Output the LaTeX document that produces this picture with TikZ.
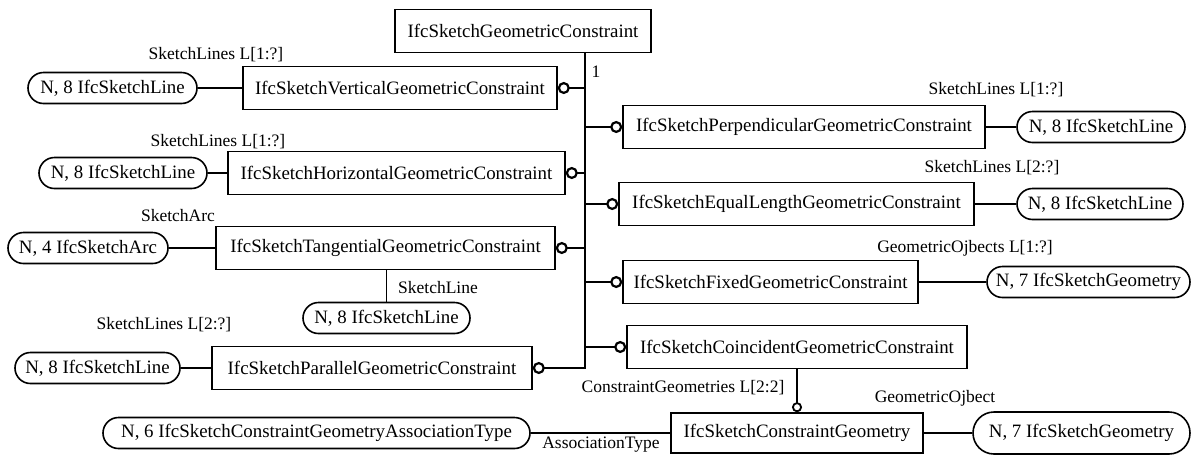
\documentclass[tikz,border=0pt]{standalone}
\usepackage{fontspec}
\setmainfont{Liberation Serif}
\usetikzlibrary{arrows.meta}

\begin{document}
\begin{tikzpicture}[x=1pt, y=-1pt,
  ent/.style={draw, line width=1.6pt, minimum height=43pt, inner sep=0pt, font=\fontsize{18.9}{22}\selectfont},
  defn/.style={draw, line width=1.6pt, rounded corners=15.5pt, minimum height=31pt, inner sep=0pt, font=\fontsize{18.9}{22}\selectfont},
  lbl/.style={inner sep=0pt, font=\fontsize{17.5}{20}\selectfont},
  rel/.style={line width=1.4pt},
  bus/.style={line width=2.8pt, -{Circle[open, length=12pt 0 0, width=12pt 0 0, line width=2.2pt 0 0]}},
]
\useasboundingbox (0,0) rectangle (1194,456);

\node[ent, minimum width=256pt] (top) at (523,31) {IfcSketchGeometricConstraint};

\node[ent, minimum width=314pt] (vert) at (400,88) {IfcSketchVerticalGeometricConstraint};
\node[ent, minimum width=337pt] (horz) at (396.5,173) {IfcSketchHorizontalGeometricConstraint};
\node[ent, minimum width=339pt] (tang) at (385.5,248) {IfcSketchTangentialGeometricConstraint};
\node[ent, minimum width=320pt] (para) at (372,368) {IfcSketchParallelGeometricConstraint};

\node[ent, minimum width=362pt] (perp) at (804,127) {IfcSketchPerpendicularGeometricConstraint};
\node[ent, minimum width=355pt] (eqln) at (796.5,204) {IfcSketchEqualLengthGeometricConstraint};
\node[ent, minimum width=295pt] (fixd) at (770.5,282) {IfcSketchFixedGeometricConstraint};
\node[ent, minimum width=340pt] (coin) at (797,347) {IfcSketchCoincidentGeometricConstraint};
\node[ent, minimum width=252pt, minimum height=40pt] (cgeo) at (797,433) {IfcSketchConstraintGeometry};

\node[defn, minimum width=169pt] (ovV) at (112.5,88) {N, 8 IfcSketchLine};
\node[defn, minimum width=168pt] (ovH) at (123,173) {N, 8 IfcSketchLine};
\node[defn, minimum width=160pt] (ovT) at (88,248) {N, 4 IfcSketchArc};
\node[defn, minimum width=167pt] (ovS) at (386.5,318) {N, 8 IfcSketchLine};
\node[defn, minimum width=165pt] (ovPa) at (97.5,368) {N, 8 IfcSketchLine};
\node[defn, minimum width=168pt] (ovP) at (1101,127) {N, 8 IfcSketchLine};
\node[defn, minimum width=166pt] (ovE) at (1100,204) {N, 8 IfcSketchLine};
\node[defn, minimum width=203pt] (ovF) at (1088.5,282) {N, 7 IfcSketchGeometry};
\node[defn, minimum width=427pt] (ovA) at (316.5,433) {N, 6 IfcSketchConstraintGeometryAssociationType};
\node[defn, minimum width=217pt, minimum height=42pt, rounded corners=21pt] (ovG) at (1081.5,433) {N, 7 IfcSketchGeometry};

\node[lbl] (lV) at (216,55) {SketchLines L[1:?]};
\node[lbl] (lH) at (218,142) {SketchLines L[1:?]};
\node[lbl] (lT) at (178,216) {SketchArc};
\node[lbl] (lS) at (438,288) {SketchLine};
\node[lbl] (lPa) at (164,325) {SketchLines L[2:?]};
\node[lbl] (one) at (596,72) {1};
\node[lbl] (lP) at (996,90) {SketchLines L[1:?]};
\node[lbl] (lE) at (992,168) {SketchLines L[2:?]};
\node[lbl] (lF) at (965,248) {GeometricOjbects L[1:?]};
\node[lbl] (lC) at (683,388) {ConstraintGeometries L[2:2]};
\node[lbl] (lG) at (935,398) {GeometricOjbect};
\node[lbl] (lA) at (601,445) {AssociationType};

\draw[rel] (ovV) -- (vert);
\draw[rel] (ovH) -- (horz);
\draw[rel] (ovT) -- (tang);
\draw[rel] (tang.south -| ovS.north) -- (ovS.north);
\draw[rel] (ovPa) -- (para);
\draw[rel] (perp) -- (ovP);
\draw[rel] (eqln) -- (ovE);
\draw[rel] (fixd) -- (ovF);
\draw[rel] (ovA) -- (cgeo);
\draw[rel] (cgeo) -- (ovG);
\draw[rel, -{Circle[open, length=10pt 0 0, width=10pt 0 0, line width=1.8pt 0 0]}] (coin.south) -- (cgeo.north);

\coordinate (jt) at (585,53);
\draw[bus] (jt) |- (para.east);
\foreach \n in {vert,horz,tang}
  \draw[bus] (jt |- \n.east) -- (\n.east);
\foreach \n in {perp,eqln,fixd,coin}
  \draw[bus] (jt |- \n.west) -- (\n.west);
\end{tikzpicture}
\end{document}
